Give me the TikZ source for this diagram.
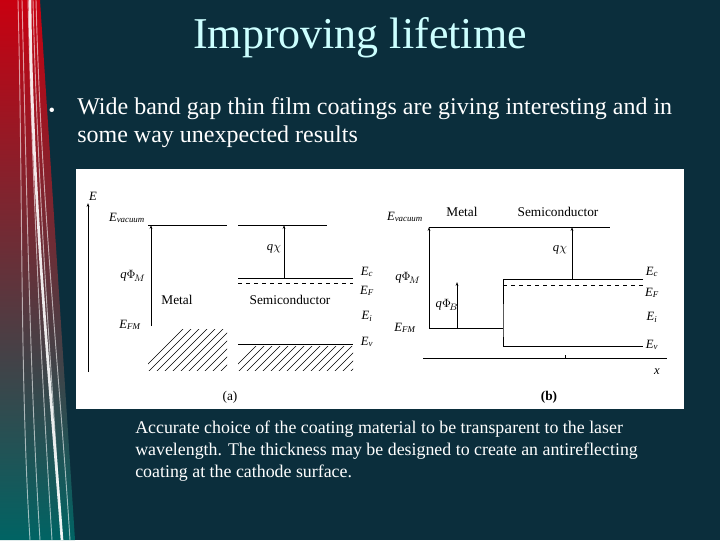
\documentclass[tikz,border=0pt]{standalone}
\usepackage{fontspec}
\setmainfont{Liberation Serif}
\usetikzlibrary{arrows.meta}
\definecolor{bg}{HTML}{0B2E3C}
\definecolor{ttl}{HTML}{CCFFFF}
\begin{document}
\begin{tikzpicture}[x=0.75pt,y=-0.75pt,
 lvl/.style={line width=0.6pt},
 arr/.style={line width=0.6pt,-{Stealth[length=3pt,width=2pt]}},
 lab/.style={font=\fontsize{9.5}{10}\selectfont\itshape,inner sep=0pt},
 word/.style={font=\fontsize{10}{10}\selectfont,inner sep=0pt},
 hl/.style={line width=0.5pt}]
\fill[bg] (0,0) rectangle (720,540);
\useasboundingbox (0,0) rectangle (720,540);
% decorative strip
\shade[top color=red!70!purple!85!black, bottom color=teal!70!cyan!60!black] (0,0) -- (40,0) -- (75,540) -- (0,540) -- cycle;
\foreach \a/\b in {18/30,22/40,28/52,33/62,36/70}{\draw[white,opacity=0.6,line width=0.7pt] (\a,0) .. controls (\a+5,200) and (\b-10,380) .. (\b,540);}
\draw[white,opacity=0.9,line width=2pt] (30,0) .. controls (32,200) and (50,380) .. (62,540);
% title and text
\node[ttl,font=\fontsize{33}{36}\selectfont] (title) at (360,38) {Improving lifetime};
\node[white,font=\fontsize{14}{20}\selectfont] (bul) at (52,112) {•};
\node[white,font=\fontsize{18}{21}\selectfont,anchor=north west,align=left,inner sep=0pt] (txt) at (77,97) {Wide band gap thin film coatings are giving interesting and in\\some way unexpected results};
% figure box
\fill[white] (76,169) rectangle (684,409);
% panel (a)
\coordinate (Et) at (88,203); \coordinate (Eb) at (88,372);
\draw[arr] (Eb) -- (Et);
\node[lab] (E) at (93,196) {E};
\node[lab] (evac) at (127,218) {E\textsubscript{vacuum}};
\coordinate (mv1) at (148,225); \coordinate (mv2) at (227,225);
\coordinate (sv1) at (238,225); \coordinate (sv2) at (327,225);
\draw[lvl] (mv1) -- (mv2); \draw[lvl] (sv1) -- (sv2);
\coordinate (fm) at (151,326); \coordinate (fmt) at (151,225);
\draw[arr] (fm) -- (fmt);
\node[lab] (qphi) at (133,276) {q$\Phi_{\!M}$};
\node[lab] (efm) at (130,325) {E\textsubscript{FM}};
\node[word] (metal) at (177,300) {Metal};
\node[word] (semi) at (290,300) {Semiconductor};
\coordinate (ec1) at (238,278); \coordinate (ec2) at (353,278);
\draw[lvl] (ec1) -- (ec2);
\draw[lvl,dashed] (238,283) -- (353,283);
\coordinate (chb) at (284,278); \coordinate (cht) at (284,225);
\draw[arr] (chb) -- (cht);
\node[lab] (qchi) at (274,249) {q$\chi$};
\node[lab] (Ec) at (367,272) {E\textsubscript{c}};
\node[lab] (EF) at (367,291) {E\textsubscript{F}};
\node[lab] (Ei) at (367,316) {E\textsubscript{i}};
\node[lab] (Ev) at (367,342) {E\textsubscript{v}};
\draw[lvl] (238,344) -- (353,344);
\begin{scope}
\clip (148,329) rectangle (227,370);
\foreach \k in {0,8,...,140}{\draw[hl] (140+\k,372) -- (190+\k,322);}
\end{scope}
\begin{scope}
\clip (238,346) rectangle (353,370);
\foreach \k in {0,8,...,160}{\draw[hl] (230+\k,372) -- (260+\k,342);}
\end{scope}
\node[word] (pa) at (230,397) {(a)};
% panel (b)
\node[lab] (evacb) at (405,217) {E\textsubscript{vacuum}};
\node[word] (metalb) at (462,212) {Metal};
\node[word] (semib) at (558,212) {Semiconductor};
\coordinate (bv1) at (429,227); \coordinate (bv2) at (610,227);
\draw[lvl] (bv1) -- (bv2);
\coordinate (bfm) at (429,328); \coordinate (bfe) at (503,328);
\draw[arr] (bfm) -- (bv1);
\node[lab] (qphib) at (408,278) {q$\Phi_{\!M}$};
\draw[lvl] (bfm) -- (bfe);
\node[lab] (efmb) at (405,328) {E\textsubscript{FM}};
\coordinate (pb1) at (457,328); \coordinate (pb2) at (457,282);
\draw[arr] (pb1) -- (pb2);
\node[lab] (qphiB) at (447,305) {q$\Phi_{\!B}$};
\coordinate (bc1) at (503,279); \coordinate (bc2) at (643,279);
\coordinate (bvv1) at (503,346); \coordinate (bvv2) at (643,346);
\draw[lvl] (bc2) -- (bc1) -- (bfe) -- (bvv1) -- (bvv2);
\draw[lvl,dashed] (503,285) -- (643,285);
\coordinate (bch) at (572,279); \coordinate (bcht) at (572,227);
\draw[arr] (bch) -- (bcht);
\node[lab] (qchib) at (560,250) {q$\chi$};
\node[lab] (Ecb) at (652,272) {E\textsubscript{c}};
\node[lab] (EFb) at (652,293) {E\textsubscript{F}};
\node[lab] (Eib) at (652,317) {E\textsubscript{i}};
\node[lab] (Evb) at (652,345) {E\textsubscript{v}};
\coordinate (x1) at (423,358); \coordinate (x2) at (667,358);
\draw[lvl] (x1) -- (x2);
\draw[lvl] (565,355) -- (565,358);
\node[lab] (xl) at (657,372) {x};
\node[word,font=\fontsize{10}{10}\selectfont\bfseries] (pb) at (549,397) {(b)};
% caption
\node[white,font=\fontsize{13.4}{16.5}\selectfont,anchor=north west,align=left,inner sep=0pt] (cap) at (135,421) {Accurate choice of the coating material to be transparent to the laser\\wavelength. The thickness may be designed to create an antireflecting\\coating at the cathode surface.};
\end{tikzpicture}
\end{document}
